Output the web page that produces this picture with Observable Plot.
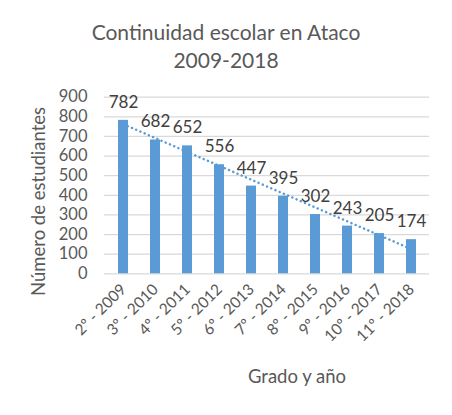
<!DOCTYPE html>
<html><head><meta charset="utf-8">
<script src="https://cdn.jsdelivr.net/npm/d3@7"></script>
<script src="https://cdn.jsdelivr.net/npm/@observablehq/plot@0.6"></script>
<style>
body{margin:0;background:#fff;font-family:Lato,"Open Sans",sans-serif;}
#title{width:452px;height:80px;text-align:center;color:#595959;font-size:21px;line-height:28px;padding-top:18px;box-sizing:border-box;}
</style></head>
<body>
<div id="title">Continuidad escolar en Ataco<br>2009-2018</div>
<div id="chart"></div>
<script>
const categories = ["2º - 2009","3º - 2010","4º - 2011","5º - 2012","6º - 2013","7º - 2014","8º - 2015","9º - 2016","10º - 2017","11º - 2018"];
const students = [782, 682, 652, 556, 447, 395, 302, 243, 205, 174];
const yTicks = [0,100,200,300,400,500,600,700,800,900];
const yTitle = "Número de estudiantes";
const xTitle = "Grado y año";

const data = categories.map((c, i) => ({cat: c, v: students[i], i}));
// linear trend line (least squares) of the data
const mx = d3.mean(data, d => d.i), my = d3.mean(data, d => d.v);
const slope = d3.sum(data, d => (d.i - mx) * (d.v - my)) / d3.sum(data, d => (d.i - mx) ** 2);
const trend = data.map(d => ({cat: d.cat, v: my + slope * (d.i - mx)}));

const plot = Plot.plot({
  width: 452, height: 335,
  marginTop: 16.7, marginBottom: 141.7, marginLeft: 104, marginRight: 23,
  style: {fontFamily: "Lato, 'Open Sans', sans-serif", color: "#595959", background: "#fff", overflow: "visible"},
  x: {domain: categories, paddingInner: 0.69, paddingOuter: 0.345, label: null},
  y: {domain: [0, 900], label: null},
  marks: [
    Plot.ruleY(yTicks, {stroke: "#d9d9d9", strokeWidth: 1.3}),
    Plot.barY(data, {x: "cat", y: "v", fill: "#5b9bd5"}),
    Plot.line(trend, {x: "cat", y: "v", stroke: "#5b9bd5", strokeWidth: 2.5, strokeDasharray: "0.1,4.5", strokeLinecap: "round"}),
    Plot.text(data, {x: "cat", y: "v", text: d => String(d.v), dy: -18, fontSize: 17, fill: "#404040"}),
    Plot.axisY({ticks: yTicks, tickSize: 0, tickPadding: 17, fontSize: 16.5, fill: "#595959", label: null}),
    Plot.axisX({tickSize: 0, tickRotate: -45, tickPadding: 13, fontSize: 15.5, fill: "#595959", label: null}),
    Plot.text([yTitle], {frameAnchor: "left", textAnchor: "middle", rotate: -90, dx: -65, dy: 16, fontSize: 18.5, fill: "#595959"}),
    Plot.text([xTitle], {frameAnchor: "bottom", dy: 109, dx: 30, fontSize: 18.5, fill: "#595959"})
  ]
});
document.getElementById("chart").appendChild(plot);
</script>
</body></html>
